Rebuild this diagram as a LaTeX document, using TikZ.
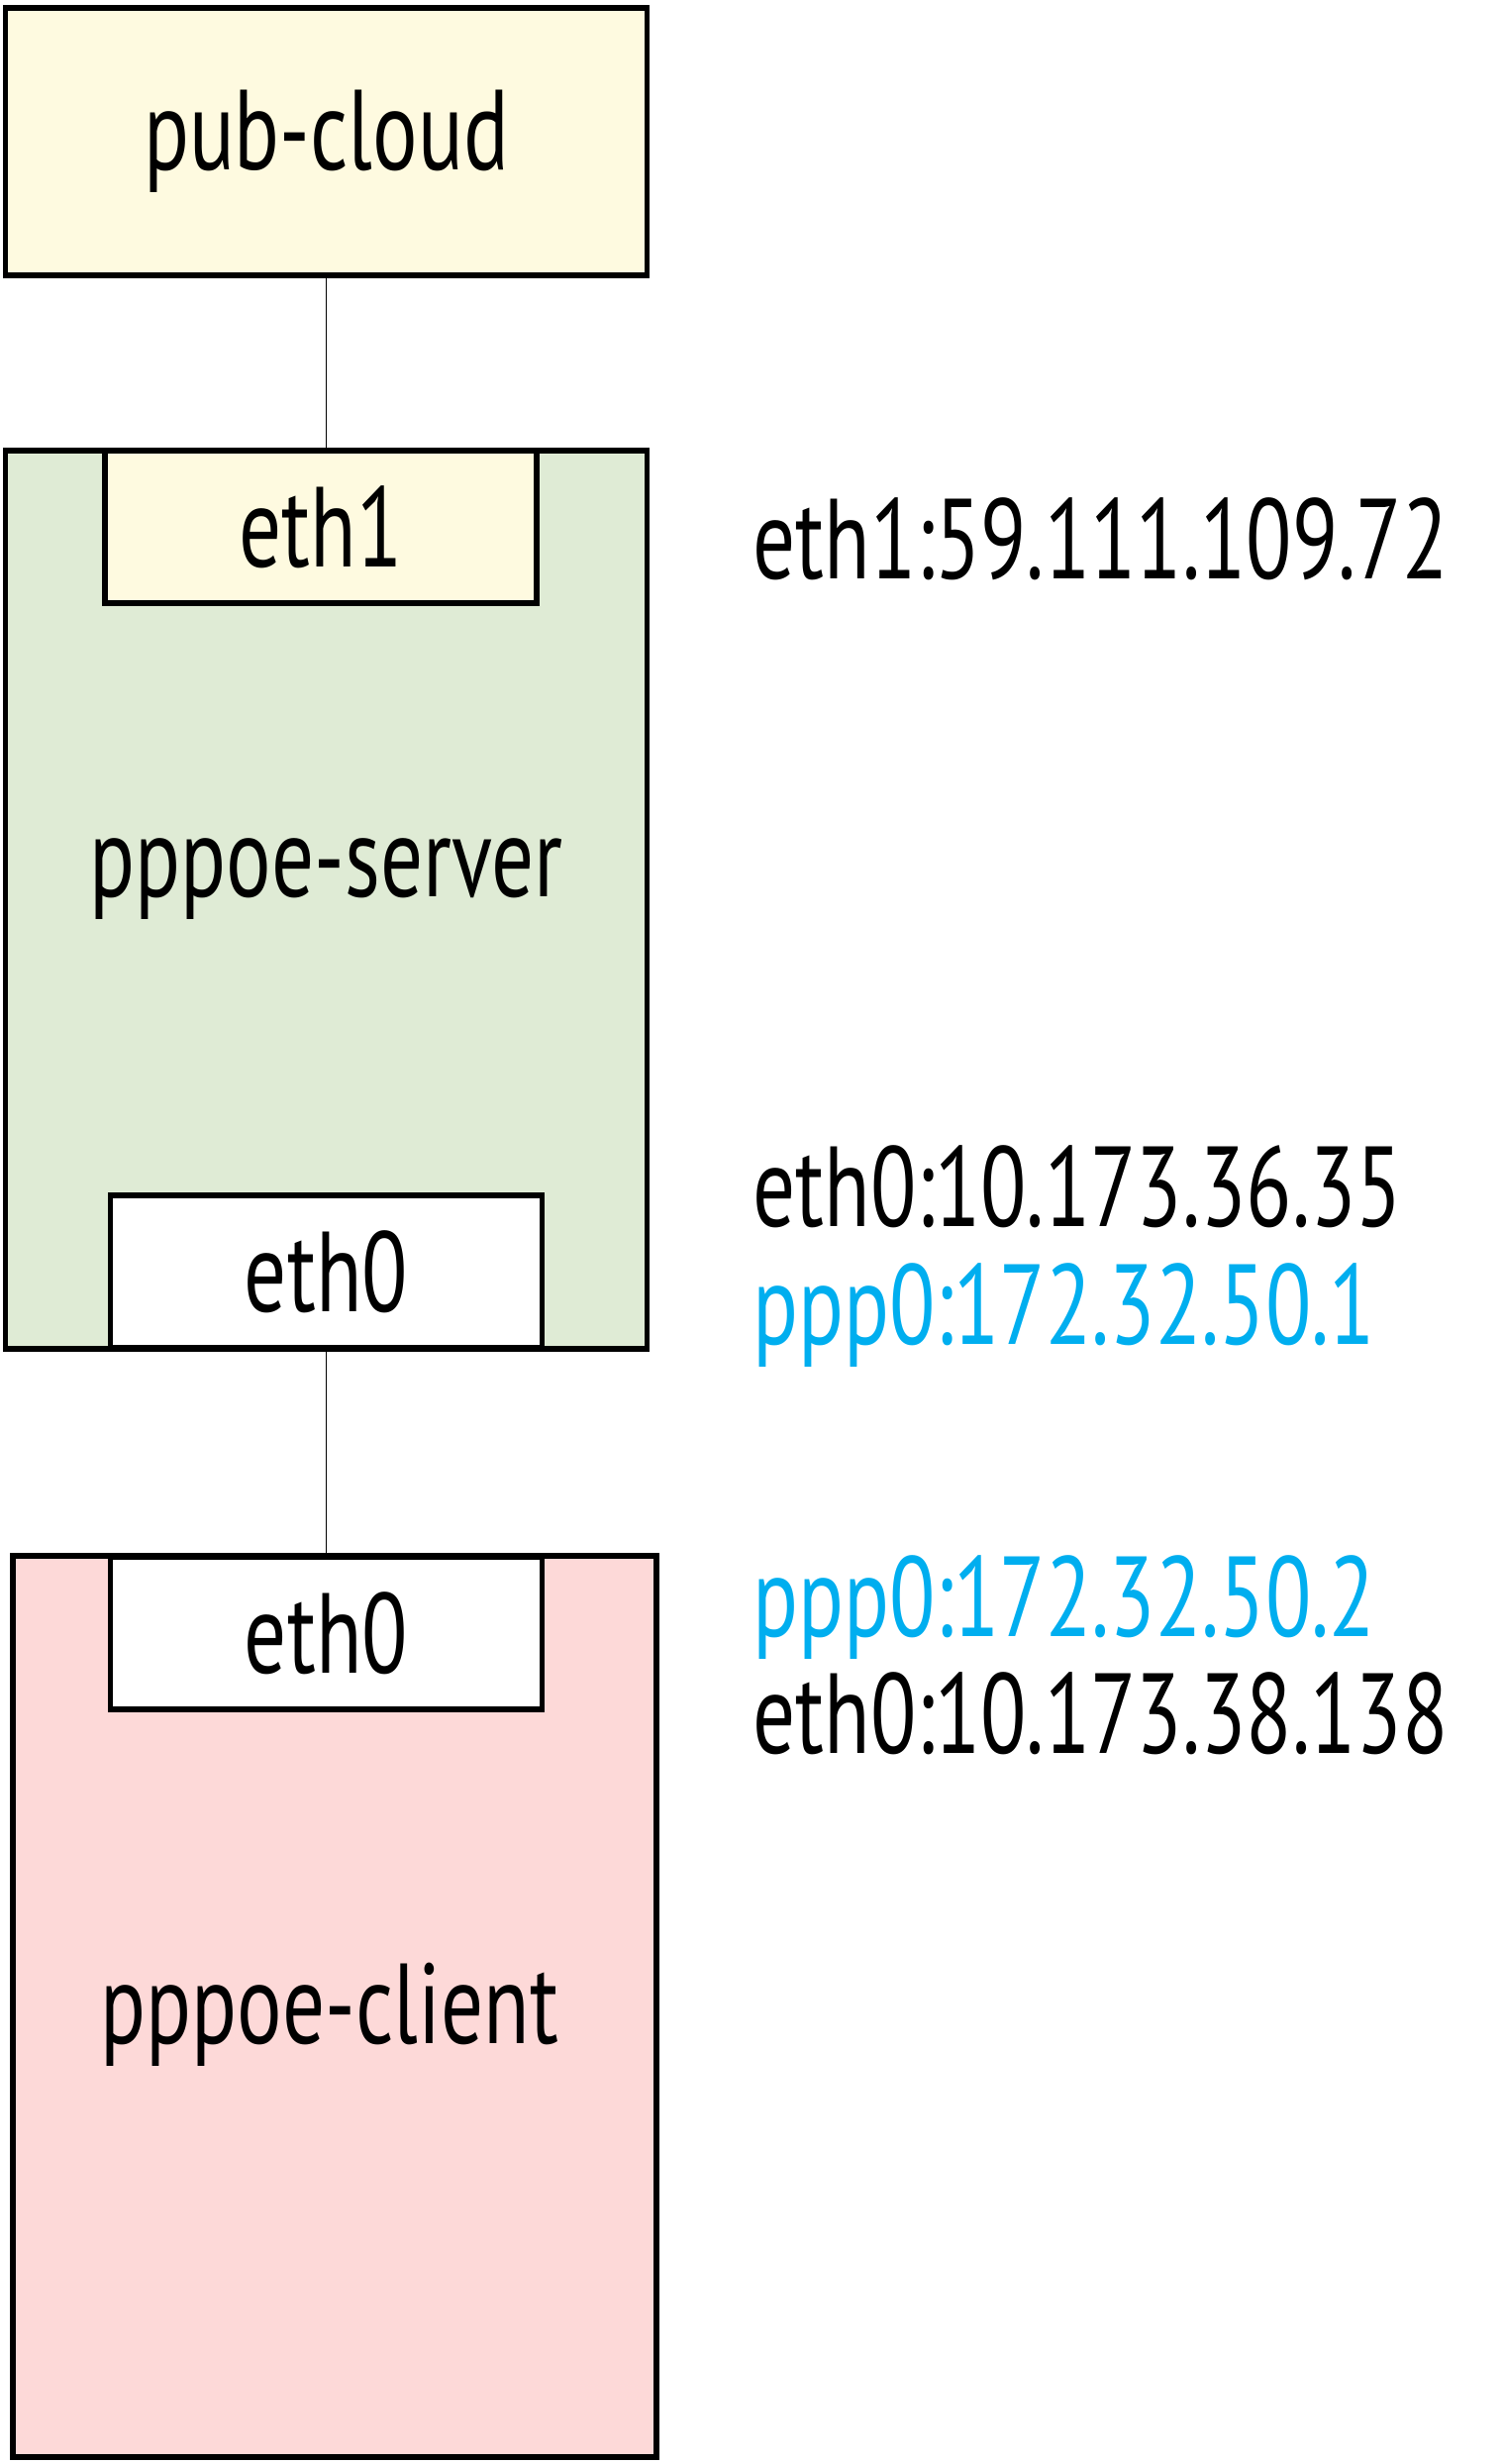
\documentclass[tikz,border=0pt]{standalone}
\usepackage{fontspec}
\setmainfont{PT Sans}[FakeStretch=0.74]
\usetikzlibrary{positioning}

\definecolor{cloudyellow}{HTML}{FEFAE0}
\definecolor{servergreen}{HTML}{DFEBD5}
\definecolor{clientpink}{HTML}{FDD9D8}
\definecolor{pppblue}{HTML}{00AEEF}

\begin{document}
\begin{tikzpicture}[x=0.5pt, y=-0.5pt, every node/.style={font=\fontsize{57.5}{62}\selectfont}, box/.style={draw, line width=2.9pt, inner sep=0pt}, iface/.style={box, fill=white, minimum width=218pt, minimum height=77pt}, addr/.style={anchor=base west, inner sep=0pt}]
	\useasboundingbox (0,0) rectangle (1519,2488);
	% hosts
	\node[box, fill=cloudyellow, minimum width=324pt, minimum height=135pt] (cloud) at (329.5,143) {pub-cloud};
	\node[box, fill=servergreen, minimum width=324pt, minimum height=453.5pt] (server) at (329.5,908.5) {};
	\node[box, fill=clientpink, minimum width=325pt, minimum height=455pt] (client) at (338,2026) {};
	\node[anchor=base, inner sep=0pt] (srvlabel) at (329.5,905) {pppoe-server};
	\node[anchor=base, inner sep=0pt] (clilabel) at (333,2063) {pppoe-client};
	% interfaces
	\node[iface, fill=cloudyellow] (eth1) at (324,532) {eth1};
	\node[iface] (srveth0) at (329.5,1284) {eth0};
	\node[iface] (clieth0) at (329.5,1649) {eth0};
	% links
	\draw[line width=0.9pt] (cloud.south) -- (cloud.south |- eth1.north);
	\draw[line width=0.9pt] (srveth0.south) -- (clieth0.north);
	% addresses
	\node[addr] (a1) at (760,584) {eth1:59.111.109.72};
	\node[addr] (a2) at (760,1238) {eth0:10.173.36.35};
	\node[addr, text=pppblue] (a3) at (760,1357) {ppp0:172.32.50.1};
	\node[addr, text=pppblue] (a4) at (760,1652) {ppp0:172.32.50.2};
	\node[addr] (a5) at (760,1770) {eth0:10.173.38.138};
\end{tikzpicture}
\end{document}
